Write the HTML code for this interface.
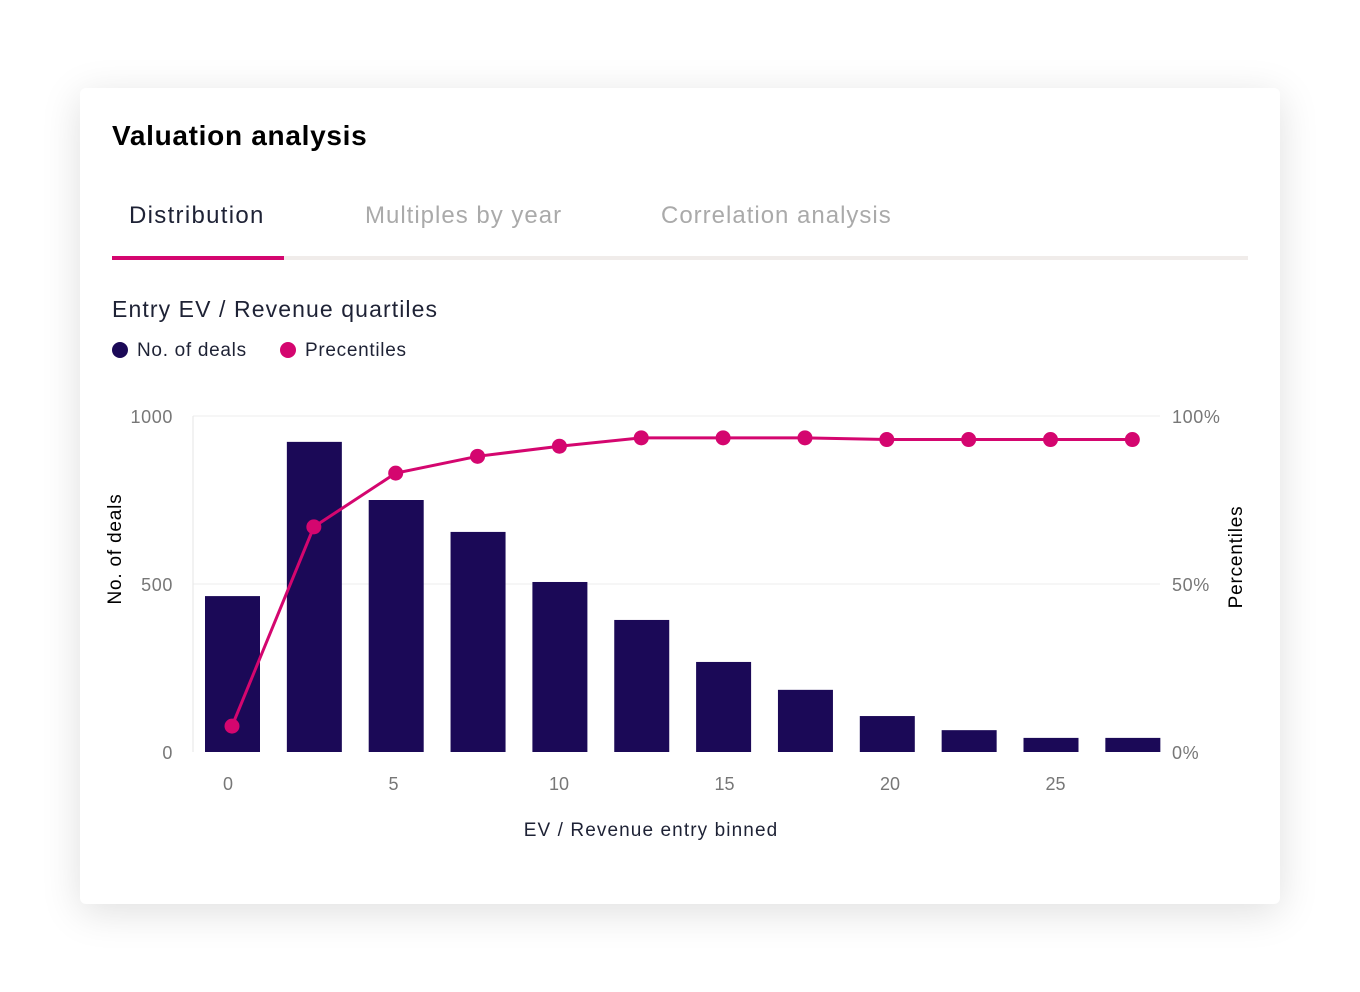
<!DOCTYPE html>
<html><head><meta charset="utf-8"><style>
body{margin:0;width:1360px;height:992px;background:#fff;font-family:"Liberation Sans",sans-serif;position:relative;overflow:hidden}
.card{position:absolute;left:80px;top:88px;width:1200px;height:816px;background:#fff;border-radius:6px;box-shadow:0 8px 40px rgba(0,0,0,0.13)}
.t{position:absolute;white-space:nowrap}
</style></head><body>
<div class="card"></div>
<div class="t" style="left:112px;top:120px;font-size:28px;font-weight:bold;color:#000;letter-spacing:0.7px">Valuation analysis</div>
<div class="t" style="left:129px;top:202px;font-size:24px;color:#1e2235;letter-spacing:1.3px">Distribution</div>
<div class="t" style="left:365px;top:202px;font-size:24px;color:#aaa;letter-spacing:1px">Multiples by year</div>
<div class="t" style="left:661px;top:202px;font-size:24px;color:#aaa;letter-spacing:1px">Correlation analysis</div>
<div style="position:absolute;left:112px;top:256px;width:1136px;height:4px;background:#f0ecea"></div>
<div style="position:absolute;left:112px;top:256px;width:172px;height:4px;background:#d4066f"></div>
<div class="t" style="left:112px;top:296px;font-size:23px;color:#1e2235;letter-spacing:1.1px">Entry EV / Revenue quartiles</div>
<div style="position:absolute;left:112px;top:342px;width:16px;height:16px;border-radius:50%;background:#1b0957"></div>
<div class="t" style="left:137px;top:340px;font-size:19px;color:#1e2235;letter-spacing:0.7px">No. of deals</div>
<div style="position:absolute;left:280px;top:342px;width:16px;height:16px;border-radius:50%;background:#d4066f"></div>
<div class="t" style="left:305px;top:340px;font-size:19px;color:#1e2235;letter-spacing:0.7px">Precentiles</div>
<svg id="chart" width="1360" height="992" style="position:absolute;left:0;top:0" font-family="Liberation Sans, sans-serif"></svg>
<script>
const binCenters=[0,2.5,5,7.5,10,12.5,15,17.5,20,22.5,25,27.5];
const deals=[464,923,750,655,506,393,268,185,107,65,42,42];
const percentiles=[7.7,67,83,88,91,93.5,93.5,93.5,93,93,93,93];
const xTicks=[0,5,10,15,20,25];
const yTicks=[0,500,1000];
const yRTicks=[0,50,100];
const ns="http://www.w3.org/2000/svg",svg=document.getElementById('chart');
const x=v=>228+v*33.1, xb=v=>232+v*32.74, y=v=>752-v*0.336, yr=v=>752-v*3.36;
function mk(t,a,txt){const e=document.createElementNS(ns,t);for(const k in a)e.setAttribute(k,a[k]);if(txt!=null)e.textContent=txt;svg.appendChild(e);return e;}
yTicks.forEach(v=>{
 if(v>0){const g=mk('line',{x1:193,x2:1160,y1:y(v),y2:y(v),stroke:'#eeeeee','stroke-width':1});
 
 }
 const t=mk('text',{x:173,y:y(v)+7,'text-anchor':'end','font-size':18,fill:'#777','letter-spacing':0.6},v);
 
 
});
yRTicks.forEach(v=>{
 const t=mk('text',{x:1172,y:yr(v)+7,'font-size':18,fill:'#777','letter-spacing':0.6},v+'%');
 
 
});
const ax=mk('line',{x1:193,x2:193,y1:416,y2:752,stroke:'#e6e6e6'});


xTicks.forEach(v=>{
 const t=mk('text',{x:x(v),y:790,'text-anchor':'middle','font-size':18,fill:'#777'},v);
 
 
});
binCenters.forEach((c,i)=>{
 const b=mk('rect',{x:xb(c)-27,y:y(deals[i]),width:55,height:752-y(deals[i]),fill:'#1b0957'});
 
 
});
const pl=mk('polyline',{points:binCenters.map((c,i)=>xb(c)+','+yr(percentiles[i])).join(' '),fill:'none',stroke:'#d4066f','stroke-width':3});


binCenters.forEach((c,i)=>{
 const p=mk('circle',{cx:xb(c),cy:yr(percentiles[i]),r:7.5,fill:'#d4066f'});
 
 
});
const xt=mk('text',{x:651,y:836,'text-anchor':'middle','font-size':19,fill:'#1e2235','letter-spacing':1.1},'EV / Revenue entry binned');


const yt=mk('text',{x:0,y:0,'text-anchor':'middle','font-size':19,fill:'#000','letter-spacing':0.8,transform:'translate(121,549) rotate(-90)'},'No. of deals');


const yrt=mk('text',{x:0,y:0,'text-anchor':'middle','font-size':19,fill:'#000','letter-spacing':0.8,transform:'translate(1242,557) rotate(-90)'},'Percentiles');


</script>
</body></html>
